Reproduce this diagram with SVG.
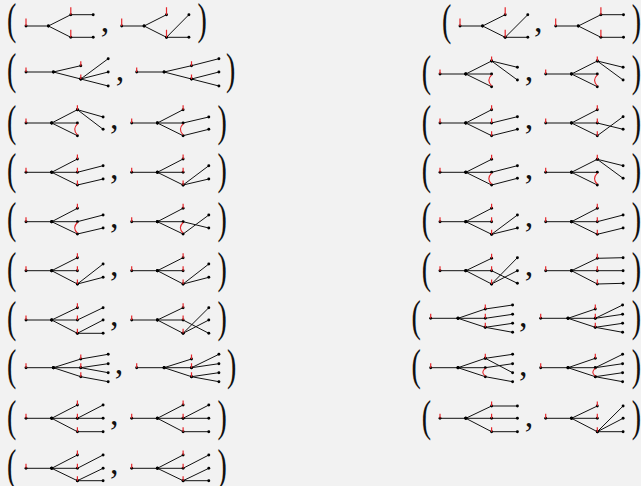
<svg xmlns="http://www.w3.org/2000/svg" width="641" height="486" viewBox="0 0 641 486">
<style>
.e{fill:none;stroke:#111;stroke-width:1;marker-start:url(#dot);marker-mid:url(#dot);marker-end:url(#dot)}
.t{fill:none;stroke:#e5262b;stroke-width:1.2}
.a{fill:none;stroke:#e5262b;stroke-width:1.1}
.p{font-family:"Liberation Serif",serif;font-size:28px;fill:#111}
.c{font-family:"Liberation Serif",serif;font-size:34px;fill:#111}
</style>
<defs>
<marker id="dot" viewBox="-2 -2 4 4" markerWidth="4" markerHeight="4" refX="0" refY="0" markerUnits="userSpaceOnUse" overflow="visible"><circle r="1.45" fill="#000"/></marker>
</defs>
<rect width="641" height="486" fill="#f2f2f2"/>
<g id="punctuation">
<text class="p" transform="translate(7.1 34.4) scale(1 1.55)">(</text>
<text class="c" x="100.7" y="32">,</text>
<text class="p" transform="translate(197.6 34.4) scale(1 1.55)">)</text>
<text class="p" transform="translate(7.1 84.2) scale(1 1.55)">(</text>
<text class="c" x="115.7" y="81">,</text>
<text class="p" transform="translate(226 84.2) scale(1 1.55)">)</text>
<text class="p" transform="translate(7.1 136) scale(1 1.55)">(</text>
<text class="c" x="110.1" y="129.4">,</text>
<text class="p" transform="translate(217.6 136) scale(1 1.55)">)</text>
<text class="p" transform="translate(7.1 184.2) scale(1 1.55)">(</text>
<text class="c" x="110.1" y="178.7">,</text>
<text class="p" transform="translate(217.6 184.2) scale(1 1.55)">)</text>
<text class="p" transform="translate(7.1 233.2) scale(1 1.55)">(</text>
<text class="c" x="110.1" y="227.7">,</text>
<text class="p" transform="translate(217.6 233.2) scale(1 1.55)">)</text>
<text class="p" transform="translate(7.1 282.9) scale(1 1.55)">(</text>
<text class="c" x="110.1" y="276.4">,</text>
<text class="p" transform="translate(217.6 282.9) scale(1 1.55)">)</text>
<text class="p" transform="translate(7.1 331.7) scale(1 1.55)">(</text>
<text class="c" x="110.1" y="326">,</text>
<text class="p" transform="translate(217.6 331.7) scale(1 1.55)">)</text>
<text class="p" transform="translate(7.1 379.9) scale(1 1.55)">(</text>
<text class="c" x="114.7" y="373.7">,</text>
<text class="p" transform="translate(227 379.9) scale(1 1.55)">)</text>
<text class="p" transform="translate(7.1 430.7) scale(1 1.55)">(</text>
<text class="c" x="110.1" y="425.4">,</text>
<text class="p" transform="translate(217.6 430.7) scale(1 1.55)">)</text>
<text class="p" transform="translate(7.1 479.5) scale(1 1.55)">(</text>
<text class="c" x="110.1" y="473.7">,</text>
<text class="p" transform="translate(217.6 479.5) scale(1 1.55)">)</text>
<text class="p" transform="translate(442.1 34.8) scale(1 1.55)">(</text>
<text class="c" x="534.1" y="32">,</text>
<text class="p" transform="translate(631.8 34.8) scale(1 1.55)">)</text>
<text class="p" transform="translate(421.8 86.2) scale(1 1.55)">(</text>
<text class="c" x="524.7" y="81">,</text>
<text class="p" transform="translate(631.8 86.2) scale(1 1.55)">)</text>
<text class="p" transform="translate(421.8 136) scale(1 1.55)">(</text>
<text class="c" x="524.7" y="129.4">,</text>
<text class="p" transform="translate(631.8 136) scale(1 1.55)">)</text>
<text class="p" transform="translate(421.8 184.2) scale(1 1.55)">(</text>
<text class="c" x="524.7" y="178.7">,</text>
<text class="p" transform="translate(631.8 184.2) scale(1 1.55)">)</text>
<text class="p" transform="translate(421.8 233.2) scale(1 1.55)">(</text>
<text class="c" x="524.7" y="227">,</text>
<text class="p" transform="translate(631.8 233.2) scale(1 1.55)">)</text>
<text class="p" transform="translate(421.8 282.9) scale(1 1.55)">(</text>
<text class="c" x="524.7" y="276.4">,</text>
<text class="p" transform="translate(631.8 282.9) scale(1 1.55)">)</text>
<text class="p" transform="translate(411.5 330.5) scale(1 1.55)">(</text>
<text class="c" x="519.1" y="327">,</text>
<text class="p" transform="translate(631.8 330.5) scale(1 1.55)">)</text>
<text class="p" transform="translate(411.5 379.9) scale(1 1.55)">(</text>
<text class="c" x="519.1" y="376">,</text>
<text class="p" transform="translate(631.8 379.9) scale(1 1.55)">)</text>
<text class="p" transform="translate(421.8 430.7) scale(1 1.55)">(</text>
<text class="c" x="524.7" y="427">,</text>
<text class="p" transform="translate(631.8 430.7) scale(1 1.55)">)</text>
</g>
<g id="connectors">
<path class="e" d="M26 26H48.4L70.8 14.7H93.2M48.4 26L70.8 37.3H93.2"/>
<path class="e" d="M121.7 26H144.1L166.5 14.7M144.1 26L166.5 37.3L188.9 14.7M166.5 37.3H188.9"/>
<path class="e" d="M460 26H482.6L505.2 14.7M482.6 26L505.2 37.3L527.8 14.7M505.2 37.3H527.8"/>
<path class="e" d="M555.7 26H578.3L600.9 14.7H623.5M578.3 26L600.9 37.3H623.5"/>
<path class="e" d="M26 72H53.4L80.8 65.7M53.4 72L80.8 79L108.2 58.7M80.8 79L108.2 72M80.8 79L108.2 86"/>
<path class="e" d="M136.7 72H164.1L191.5 65.7L218.9 58.7M164.1 72L191.5 79L218.9 72M191.5 79L218.9 86"/>
<path class="e" d="M26 123H51.7L77.4 109.7L103.1 117M77.4 109.7L103.1 129.3M51.7 123H77.4M51.7 123L77.4 135.7"/>
<path class="e" d="M131.7 123H157.4L183.1 109.7M157.4 123H183.1L208.8 117M157.4 123L183.1 135.7L208.8 129.3"/>
<path class="e" d="M26 172.3H51.7L77.4 159M51.7 172.3H77.4L103.1 165.7M51.7 172.3L77.4 185L103.1 179"/>
<path class="e" d="M131.7 172.3H157.4L183.1 159M157.4 172.3H183.1M157.4 172.3L183.1 185L208.8 165.7M183.1 185L208.8 179"/>
<path class="e" d="M26 221.7H51.7L77.4 208.3M51.7 221.7H77.4L103.1 215M51.7 221.7L77.4 234L103.1 228"/>
<path class="e" d="M131.7 221.7H157.4L183.1 208.3M157.4 221.7H183.1L208.8 228M157.4 221.7L183.1 234L208.8 215"/>
<path class="e" d="M26 270.7H51.7L77.4 257.7M51.7 270.7H77.4M51.7 270.7L77.4 284L103.1 264M77.4 284L103.1 277.3"/>
<path class="e" d="M131.7 270.7H157.4L183.1 257.7M157.4 270.7H183.1M157.4 270.7L183.1 284L208.8 264M183.1 284L208.8 277.3"/>
<path class="e" d="M26 320H51.7L77.4 307.7M51.7 320H77.4L103.1 307.7M51.7 320L77.4 333.3L103.1 320M77.4 333.3H103.1"/>
<path class="e" d="M131.7 320H157.4L183.1 307.7M157.4 320H183.1L208.8 333.3M157.4 320L183.1 333.3L208.8 307.7M183.1 333.3L208.8 320"/>
<path class="e" d="M26 367.7H53.4L80.8 359L108.2 354.3M53.4 367.7H80.8L108.2 363.7M80.8 367.7L108.2 372.7M53.4 367.7L80.8 376.7L108.2 381.7"/>
<path class="e" d="M136.7 367.7H164.1L191.5 359M164.1 367.7H191.5L218.9 354.3M191.5 367.7L218.9 363.7M164.1 367.7L191.5 376.7L218.9 372.7M191.5 376.7L218.9 381.7"/>
<path class="e" d="M26 418.3H51.7L77.4 405M51.7 418.3H77.4L103.1 405M77.4 418.3H103.1M51.7 418.3L77.4 431.7H103.1"/>
<path class="e" d="M131.7 418.3H157.4L183.1 405M157.4 418.3H183.1L208.8 405M183.1 418.3H208.8M157.4 418.3L183.1 431.7H208.8"/>
<path class="e" d="M26 468.3H51.7L77.4 455M51.7 468.3H77.4L103.1 455M51.7 468.3L77.4 480.7L103.1 468.3M77.4 480.7H103.1"/>
<path class="e" d="M131.7 468.3H157.4L183.1 455M157.4 468.3H183.1L208.8 455M157.4 468.3L183.1 480.7L208.8 468.3M183.1 480.7H208.8"/>
<path class="e" d="M440 74H465.8L491.6 61L517.4 67.3M491.6 61L517.4 80M465.8 74H491.6M465.8 74L491.6 86.7"/>
<path class="e" d="M545.7 74H571.5L597.3 61L623.1 67.3M597.3 61L623.1 80M571.5 74H597.3M571.5 74L597.3 86.7"/>
<path class="e" d="M440 123H465.8L491.6 109.7M465.8 123H491.6L517.4 116.7M465.8 123L491.6 135.7L517.4 129.3"/>
<path class="e" d="M545.7 123H571.5L597.3 109.7M571.5 123H597.3L623.1 129.3M571.5 123L597.3 135.7L623.1 116.7"/>
<path class="e" d="M440 172.3H465.8L491.6 159.3M465.8 172.3H491.6L517.4 165.7M465.8 172.3L491.6 185L517.4 178.3"/>
<path class="e" d="M545.7 172.3H571.5L597.3 159.3L623.1 165.7M597.3 159.3L623.1 178.3M571.5 172.3H597.3M571.5 172.3L597.3 185"/>
<path class="e" d="M440 221.7H465.8L491.6 208.3M465.8 221.7H491.6M465.8 221.7L491.6 234.3L517.4 215M491.6 234.3L517.4 228"/>
<path class="e" d="M545.7 221.7H571.5L597.3 208.3M571.5 221.7H597.3L623.1 215M571.5 221.7L597.3 234.3L623.1 228"/>
<path class="e" d="M440 270.7H465.8L491.6 258.3M465.8 270.7H491.6L517.4 283.3M465.8 270.7L491.6 284L517.4 257.7M491.6 284L517.4 270.7"/>
<path class="e" d="M545.7 270.7H571.5L597.3 258.3L623.1 257.7M571.5 270.7H597.3H623.1M571.5 270.7L597.3 284L623.1 283.3"/>
<path class="e" d="M430.7 318.3H458L485.3 309L512.6 305M458 318.3H485.3L512.6 314.3M458 318.3L485.3 327.3L512.6 323.3M485.3 327.3L512.6 332.3"/>
<path class="e" d="M540.7 318.3H568L595.3 309M568 318.3H595.3L622.6 305M595.3 318.3L622.6 314.3M568 318.3L595.3 327.3L622.6 323.3M595.3 327.3L622.6 332.3"/>
<path class="e" d="M430.7 367.7H458L485.3 358.3L512.6 354.3M485.3 358.3L512.6 372.7M458 367.7H485.3L512.6 363.7M458 367.7L485.3 376.7L512.6 381.7"/>
<path class="e" d="M540.7 367.7H568L595.3 358.3M568 367.7H595.3L622.6 354.3M595.3 367.7L622.6 363.7M568 367.7L595.3 376.7L622.6 372.7M595.3 376.7L622.6 381.7"/>
<path class="e" d="M440 418.3H465.8L491.6 406H517.4M465.8 418.3H491.6H517.4M465.8 418.3L491.6 431.7H517.4"/>
<path class="e" d="M545.7 418.3H571.5L597.3 406M571.5 418.3H597.3M571.5 418.3L597.3 431.7L623.1 406M597.3 431.7L623.1 418.3M597.3 431.7H623.1"/>
</g>
<g id="marks">
<path class="t" d="M26 18.5V26M70.8 7.2V14.7M70.8 29.8V37.3M121.7 18.5V26M166.5 7.2V14.7M166.5 29.8V37.3M460 18.5V26M505.2 7.2V14.7M505.2 29.8V37.3M555.7 18.5V26M600.9 7.2V14.7M600.9 29.8V37.3"/>
<path class="t" d="M26 67.5V72M80.8 61.2V65.7M80.8 74.5V79M136.7 67.5V72M191.5 61.2V65.7M191.5 74.5V79"/>
<path class="t" d="M26 118.5V123M77.4 105.2V109.7M131.7 118.5V123M183.1 105.2V109.7"/>
<path class="t" d="M26 167.8V172.3M77.4 154.5V159M77.4 167.8V172.3M77.4 180.5V185M131.7 167.8V172.3M183.1 154.5V159M183.1 167.8V172.3M183.1 180.5V185"/>
<path class="t" d="M26 217.2V221.7M77.4 203.8V208.3M131.7 217.2V221.7M183.1 203.8V208.3"/>
<path class="t" d="M26 266.2V270.7M77.4 253.2V257.7M77.4 266.2V270.7M77.4 279.5V284M131.7 266.2V270.7M183.1 253.2V257.7M183.1 266.2V270.7M183.1 279.5V284"/>
<path class="t" d="M26 315.5V320M77.4 303.2V307.7M77.4 315.5V320M77.4 328.8V333.3M131.7 315.5V320M183.1 303.2V307.7M183.1 315.5V320M183.1 328.8V333.3"/>
<path class="t" d="M26 363.2V367.7M80.8 354.5V359M80.8 363.2V367.7M80.8 372.2V376.7M136.7 363.2V367.7M191.5 354.5V359M191.5 363.2V367.7M191.5 372.2V376.7"/>
<path class="t" d="M26 413.8V418.3M77.4 400.5V405M77.4 413.8V418.3M77.4 427.2V431.7M131.7 413.8V418.3M183.1 400.5V405M183.1 413.8V418.3M183.1 427.2V431.7"/>
<path class="t" d="M26 463.8V468.3M77.4 450.5V455M77.4 463.8V468.3M77.4 476.2V480.7M131.7 463.8V468.3M183.1 450.5V455M183.1 463.8V468.3M183.1 476.2V480.7"/>
<path class="t" d="M440 69.5V74M491.6 56.5V61M545.7 69.5V74M597.3 56.5V61"/>
<path class="t" d="M440 118.5V123M491.6 105.2V109.7M491.6 118.5V123M491.6 131.2V135.7M545.7 118.5V123M597.3 105.2V109.7M597.3 118.5V123M597.3 131.2V135.7"/>
<path class="t" d="M440 167.8V172.3M491.6 154.8V159.3M545.7 167.8V172.3M597.3 154.8V159.3"/>
<path class="t" d="M440 217.2V221.7M491.6 203.8V208.3M491.6 217.2V221.7M491.6 229.8V234.3M545.7 217.2V221.7M597.3 203.8V208.3M597.3 217.2V221.7M597.3 229.8V234.3"/>
<path class="t" d="M440 266.2V270.7M491.6 253.8V258.3M491.6 266.2V270.7M491.6 279.5V284M545.7 266.2V270.7M597.3 253.8V258.3M597.3 266.2V270.7M597.3 279.5V284"/>
<path class="t" d="M430.7 313.8V318.3M485.3 304.5V309M485.3 313.8V318.3M485.3 322.8V327.3M540.7 313.8V318.3M595.3 304.5V309M595.3 313.8V318.3M595.3 322.8V327.3"/>
<path class="t" d="M430.7 363.2V367.7M485.3 353.8V358.3M540.7 363.2V367.7M595.3 353.8V358.3"/>
<path class="t" d="M440 413.8V418.3M491.6 401.5V406M491.6 413.8V418.3M491.6 427.2V431.7M545.7 413.8V418.3M597.3 401.5V406M597.3 413.8V418.3M597.3 427.2V431.7"/>
<path class="a" d="M77.4 123.8Q71.9 129.35 77.4 134.9M183.1 123.8Q177.6 129.35 183.1 134.9"/>
<path class="a" d="M77.4 222.5Q71.9 227.85 77.4 233.2M183.1 222.5Q177.6 227.85 183.1 233.2"/>
<path class="a" d="M491.6 74.8Q486.1 80.35 491.6 85.9M597.3 74.8Q591.8 80.35 597.3 85.9"/>
<path class="a" d="M491.6 173.1Q486.1 178.65 491.6 184.2M597.3 173.1Q591.8 178.65 597.3 184.2"/>
<path class="a" d="M485.3 368.4Q480.3 372.2 485.3 376M595.3 368.4Q590.3 372.2 595.3 376"/>
</g>
</svg>
